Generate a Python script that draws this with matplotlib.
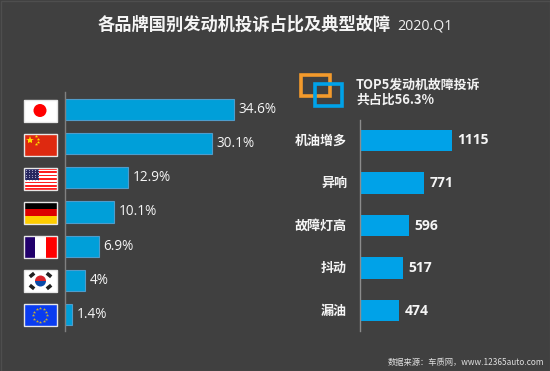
import numpy as np
import matplotlib
matplotlib.use("Agg")
import matplotlib.pyplot as plt
from matplotlib.patches import Rectangle, Circle, Wedge

plt.rcParams["font.family"] = ["Noto Sans CJK SC", "DejaVu Sans"]

shares = [34.6, 30.1, 12.9, 10.1, 6.9, 4, 1.4]
share_labels = ["34.6%", "30.1%", "12.9%", "10.1%", "6.9%", "4%", "1.4%"]
faults = ["机油增多", "异响", "故障灯高", "抖动", "漏油"]
fault_counts = [1115, 771, 596, 517, 474]

W, H = 550, 371
BG = "#404040"
fig = plt.figure(figsize=(W / 100, H / 100), dpi=100, facecolor=BG)


def px_axes(x0, y0, x1, y1):
    # axes placed by pixel box, y counted from the top
    ax = fig.add_axes([x0 / W, 1 - y1 / H, (x1 - x0) / W, (y1 - y0) / H])
    ax.patch.set_alpha(0)
    for s in ax.spines.values():
        s.set_visible(False)
    ax.set_xticks([])
    ax.set_yticks([])
    return ax


# left bars
ax1 = px_axes(65, 92, 260, 331)
ax1.barh(range(len(shares)), shares, height=0.615, color="#009fd9", edgecolor="#4f9ccb", linewidth=0.8)
ax1.set_xlim(0, 195 / 4.88)
ax1.set_ylim(6.483, -0.512)
ax1.spines["left"].set_visible(True)
ax1.spines["left"].set_color("#808080")
ax1.spines["left"].set_linewidth(1)
for i, (v, lab) in enumerate(zip(shares, share_labels)):
    ax1.text(v + 1.0, i, lab, color="#f5f5f5", fontsize=9.8, va="center", ha="left",
             family=["Open Sans", "DejaVu Sans"])

# right bars
ax2 = px_axes(360.5, 120, 520, 331)
ax2.barh(range(len(fault_counts)), fault_counts, height=0.506, color="#00a2e8")
ax2.set_xlim(0, 159.5 * 1115 / 91.5)
ax2.set_ylim(4.482, -0.482)
ax2.spines["left"].set_visible(True)
ax2.spines["left"].set_color("#8c8c8c")
ax2.spines["left"].set_linewidth(1)
for i, (name, v) in enumerate(zip(faults, fault_counts)):
    ax2.text(v + 66, i, str(v), color="#f5f5f5", fontsize=10, fontweight="bold",
             va="center", ha="left", family=["Open Sans", "DejaVu Sans"])
    ax2.text(-164, i, name, color="#f5f5f5", fontsize=9.4, fontweight="bold", va="center", ha="right",
             clip_on=False)

# overlay in pixel coordinates for flags, icon and text
ov = fig.add_axes([0, 0, 1, 1])
ov.set_xlim(0, W)
ov.set_ylim(H, 0)
ov.axis("off")
ov.patch.set_alpha(0)

ov.add_patch(Rectangle((0.5, 0.5), W - 1, H - 1, fill=False, ec="#4e4e4e", lw=1))


def flag(y, kind):
    x0, x1 = 23.5, 56.5
    y0, y1 = y - 11, y + 11
    w, h = x1 - x0, y1 - y0
    ov.add_patch(Rectangle((x0 + 1, y0 + 2), w, h, fc="#333333", ec="none", zorder=2))
    if kind == "jp":
        ov.add_patch(Rectangle((x0, y0), w, h, fc="white", zorder=3))
        ov.add_patch(Circle((x0 + w / 2, y), 6.5, fc="#ff0000", zorder=4))
    elif kind == "cn":
        ov.add_patch(Rectangle((x0, y0), w, h, fc="#de2910", zorder=3))
        ov.plot([x0 + 6.5], [y0 + 6], marker="*", ms=6, color="#ffde00", zorder=4, mew=0)
        for dx, dy in [(12, 2.5), (14, 5), (14, 8), (12, 10.5)]:
            ov.plot([x0 + dx], [y0 + dy], marker="*", ms=2.5, color="#ffde00", zorder=4, mew=0)
    elif kind == "us":
        ov.add_patch(Rectangle((x0, y0), w, h, fc="white", zorder=3))
        for k in range(0, 13, 2):
            ov.add_patch(Rectangle((x0, y0 + k * h / 13), w, h / 13, fc="#ff2020", ec="none", zorder=4))
        ov.add_patch(Rectangle((x0, y0), w * 0.47, h * 0.54, fc="#26265f", ec="none", zorder=5))
        for dx in np.arange(2, 15, 3):
            for dy in np.arange(1.5, 12, 2.5):
                ov.plot([x0 + dx], [y0 + dy], marker=".", ms=1.6, color="#b0b0d0", zorder=6, mew=0)
    elif kind == "de":
        for k, c in enumerate(["#000000", "#dd0000", "#ffce00"]):
            ov.add_patch(Rectangle((x0, y0 + k * h / 3), w, h / 3, fc=c, ec="none", zorder=3))
    elif kind == "fr":
        for k, c in enumerate(["#21006b", "#ffffff", "#ff0000"]):
            ov.add_patch(Rectangle((x0 + k * w / 3, y0), w / 3, h, fc=c, ec="none", zorder=3))
    elif kind == "kr":
        ov.add_patch(Rectangle((x0 + 1, y0), w - 1, h, fc="white", zorder=3))
        cx, cy = x0 + w / 2 + 0.5, y
        ov.add_patch(Wedge((cx, cy), 5.5, 180, 360, fc="#d8232a", ec="none", zorder=4))
        ov.add_patch(Wedge((cx, cy), 5.5, 0, 180, fc="#0a4aa8", ec="none", zorder=4))
        for dx, dy in [(-8.5, -6), (8.5, -6), (-8.5, 6), (8.5, 6)]:
            s = 1.8 if dx * dy > 0 else -1.8
            ov.plot([cx + dx - 2.2, cx + dx + 2.2], [cy + dy + s, cy + dy - s],
                    color="#222222", lw=2.6, zorder=4, solid_capstyle="butt")
    elif kind == "eu":
        ov.add_patch(Rectangle((x0, y0), w, h, fc="#0a3cf0", zorder=3))
        for a in np.arange(0, 360, 30):
            ov.plot([x0 + w / 2 + 7 * np.cos(np.radians(a))], [y + 7 * np.sin(np.radians(a))],
                    marker="*", ms=2.4, color="#c8b030", zorder=4, mew=0)
    ov.add_patch(Rectangle((x0, y0), w, h, fill=False, ec="#e6e6e6", lw=1, zorder=7))


flag_kinds = ["jp", "cn", "us", "de", "fr", "kr", "eu"]
flag_ys = [110.5, 144.5, 179, 212.5, 246.5, 281, 315]
for y, kind in zip(flag_ys, flag_kinds):
    flag(y, kind)

# title
ov.text(244, 25, "各品牌国别发动机投诉占比及典型故障", color="#f5f5f5", fontsize=12.43, fontweight="bold",
        ha="center", va="center")
ov.text(397, 25.5, "2020.Q1", color="#f0f0f0", fontsize=10.3, ha="left", va="center",
        family=["Open Sans", "DejaVu Sans"])

# icon: two overlapping frames
ov.add_patch(Rectangle((300.5, 75), 29, 21, fill=False, ec="#f39a2b", lw=2.6, zorder=3))
ov.add_patch(Rectangle((314.5, 83.5), 27, 22, fill=False, ec="#00a2e8", lw=2.6, zorder=4))

ov.text(356, 84.5, "TOP5发动机故障投诉", color="#f2f2f2", fontsize=9.3, fontweight="bold", ha="left", va="center")
ov.text(356, 100, "共占比56.3%", color="#f2f2f2", fontsize=9.3, fontweight="bold", ha="left", va="center")

ov.text(544, 362.5, "数据来源：车质网，www.12365auto.com", color="#e0e0e0", fontsize=5.95, ha="right", va="center")

fig.savefig("out.png", dpi=100, facecolor=BG)
